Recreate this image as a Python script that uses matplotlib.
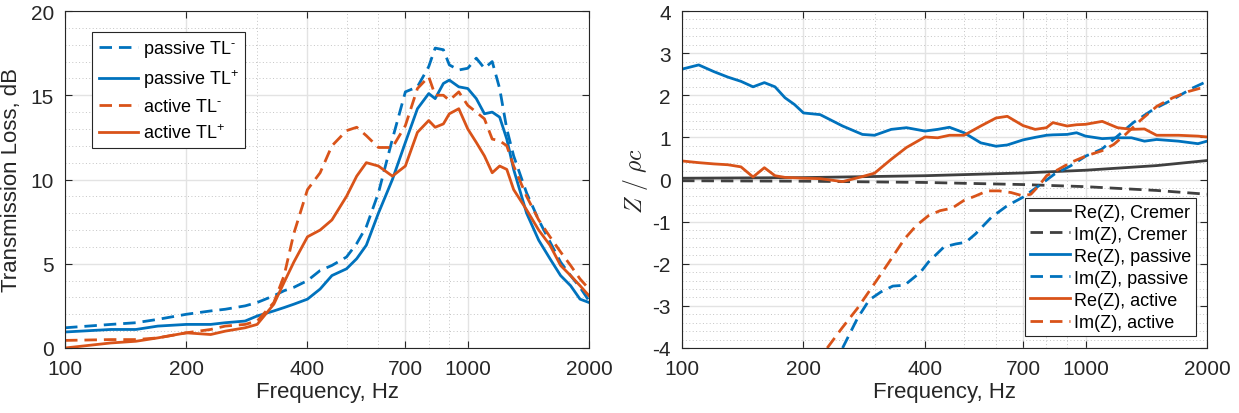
"""Transmission loss (left) and normalised impedance (right) vs frequency."""
import matplotlib

matplotlib.use("Agg")
import matplotlib.pyplot as plt
from matplotlib.ticker import FixedLocator, LogLocator, MultipleLocator, NullFormatter, FixedFormatter

BLUE = "#0072BD"
ORANGE = "#D95319"
GREY = "#404040"
TXT = "#262626"

# ---- left panel: transmission loss, dB ----
f_tl = [100, 130, 150, 170, 200, 230, 250, 280, 300, 330, 350, 370, 400, 430, 460, 500,
        530, 560, 600, 650, 700, 750, 800, 830, 870, 900, 950, 1000, 1050, 1100, 1150,
        1200, 1250, 1300, 1400, 1500, 1600, 1700, 1800, 1900, 2000]
tl_passive_minus = [1.2, 1.4, 1.5, 1.7, 2.0, 2.2, 2.3, 2.5, 2.7, 3.1, 3.4, 3.6, 4.0, 4.6, 4.9, 5.4,
                    6.2, 7.2, 9.2, 12.4, 15.2, 15.5, 16.7, 17.8, 17.7, 16.8, 16.5, 16.6, 17.2, 16.6, 17.0,
                    15.4, 13.0, 11.4, 9.2, 7.6, 6.3, 5.1, 4.3, 3.6, 2.8]
tl_passive_plus = [0.95, 1.1, 1.1, 1.3, 1.4, 1.4, 1.5, 1.6, 1.9, 2.2, 2.4, 2.6, 2.9, 3.5, 4.3, 4.7,
                   5.3, 6.1, 8.0, 10.0, 12.2, 14.2, 15.1, 14.8, 15.7, 15.9, 15.5, 15.4, 14.8, 13.9, 14.0,
                   13.7, 12.4, 10.6, 8.0, 6.4, 5.3, 4.3, 3.7, 2.9, 2.7]
tl_active_minus = [0.45, 0.5, 0.5, 0.6, 0.9, 1.1, 1.3, 1.4, 1.6, 2.7, 4.3, 6.8, 9.4, 10.4, 12.0, 12.9,
                   13.1, 12.6, 11.9, 11.9, 13.2, 15.4, 16.1, 15.0, 15.0, 14.7, 15.2, 14.4, 14.0, 13.6, 12.4,
                   12.3, 12.0, 10.8, 9.0, 7.6, 6.6, 5.7, 4.9, 4.1, 3.5]
tl_active_plus = [0.0, 0.3, 0.4, 0.6, 0.9, 0.8, 1.0, 1.2, 1.4, 2.6, 3.9, 5.1, 6.6, 7.0, 7.6, 9.0,
                  10.2, 11.0, 10.8, 10.2, 10.8, 12.8, 13.5, 13.1, 13.3, 13.9, 14.2, 13.0, 12.2, 11.4, 10.4,
                  10.8, 10.6, 9.4, 8.2, 7.0, 6.1, 4.9, 4.3, 3.7, 3.1]

# ---- right panel: Z / rho c ----
f_cremer = [100, 200, 400, 700, 1000, 1500, 2000]
re_cremer = [0.03, 0.045, 0.09, 0.155, 0.22, 0.33, 0.45]
im_cremer = [-0.03, -0.04, -0.07, -0.12, -0.17, -0.26, -0.35]

f_re = [100, 110, 120, 130, 140, 150, 160, 170, 180, 190, 200, 220, 250, 280, 300, 330, 360,
        400, 430, 460, 500, 550, 600, 640, 700, 750, 800, 830, 900, 950, 1000, 1100, 1200,
        1300, 1400, 1500, 1700, 1900, 2000]
re_passive = [2.62, 2.72, 2.56, 2.43, 2.33, 2.2, 2.3, 2.2, 1.94, 1.78, 1.58, 1.54, 1.27, 1.07, 1.05,
              1.19, 1.23, 1.15, 1.19, 1.24, 1.11, 0.87, 0.79, 0.82, 0.94, 1.0, 1.05, 1.06, 1.07, 1.11,
              1.03, 0.97, 0.99, 0.99, 0.91, 0.95, 0.91, 0.85, 0.91]
re_active = [0.44, 0.4, 0.37, 0.35, 0.3, 0.06, 0.28, 0.09, 0.05, 0.04, 0.03, 0.02, -0.05, 0.07, 0.15,
             0.48, 0.76, 1.01, 0.99, 1.05, 1.05, 1.27, 1.46, 1.5, 1.28, 1.19, 1.23, 1.35, 1.27, 1.3,
             1.31, 1.38, 1.23, 1.19, 1.2, 1.05, 1.05, 1.03, 1.01]

f_im_passive = [250, 272, 291, 311, 333, 356, 390, 408, 446, 477, 505, 534, 584, 640, 700, 766,
                838, 917, 1003, 1097, 1200, 1313, 1470, 1645, 1841, 2000]
im_passive = [-4.0, -3.3, -2.86, -2.67, -2.53, -2.51, -2.2, -1.96, -1.6, -1.53, -1.49, -1.29, -0.9,
              -0.62, -0.42, -0.15, 0.13, 0.32, 0.56, 0.72, 1.03, 1.35, 1.66, 1.9, 2.17, 2.33]
f_im_active = [229, 249, 272, 298, 326, 356, 381, 408, 436, 467, 499, 534, 571, 611, 654, 700,
               732, 766, 801, 857, 917, 1003, 1097, 1174, 1256, 1374, 1503, 1645, 1800, 2000]
im_active = [-4.0, -3.53, -3.06, -2.51, -1.96, -1.41, -1.09, -0.86, -0.74, -0.68, -0.5, -0.39, -0.27,
             -0.27, -0.31, -0.39, -0.35, -0.15, 0.09, 0.24, 0.4, 0.56, 0.68, 0.83, 1.07, 1.42, 1.74,
             1.94, 2.09, 2.21]

freq_ticks = [100, 200, 400, 700, 1000, 2000]

plt.rcParams["font.family"] = ["Liberation Sans", "DejaVu Sans"]
plt.rcParams["axes.unicode_minus"] = False
plt.rcParams["mathtext.fontset"] = "custom"
plt.rcParams["mathtext.rm"] = "Liberation Sans"
plt.rcParams["mathtext.it"] = "Liberation Sans:italic"
DASH = (0, (4.5, 2.5))
LW = 2.0


def style_axes(ax, ymin, ymax, ymajor, yminor):
    ax.set_xscale("log")
    ax.set_xlim(100, 2000)
    ax.set_ylim(ymin, ymax)
    ax.xaxis.set_major_locator(FixedLocator(freq_ticks))
    ax.xaxis.set_major_formatter(FixedFormatter([str(t) for t in freq_ticks]))
    ax.xaxis.set_minor_locator(LogLocator(base=10, subs=range(1, 10)))
    ax.xaxis.set_minor_formatter(NullFormatter())
    ax.yaxis.set_major_locator(MultipleLocator(ymajor))
    ax.yaxis.set_minor_locator(MultipleLocator(yminor))
    ax.grid(True, which="major", color="#e3e3e3", lw=1.0)
    ax.grid(True, which="minor", color="#c4c4c4", lw=0.7, ls=(0, (1, 2.5)))
    ax.set_axisbelow(True)
    ax.tick_params(which="both", direction="in", top=True, right=True, colors=TXT,
                   labelsize=15, labelcolor=TXT)
    ax.tick_params(which="major", length=5, width=0.8, pad=8)
    ax.tick_params(which="minor", length=0)
    for s in ax.spines.values():
        s.set_color(TXT)
        s.set_linewidth(0.8)
    ax.set_xlabel("Frequency, Hz", fontsize=16, color=TXT, labelpad=2)


fig = plt.figure(figsize=(12.39, 4.14), dpi=100)
ax1 = fig.add_axes([65 / 1239, 65 / 414, 524 / 1239, 337 / 414])
ax2 = fig.add_axes([682 / 1239, 65 / 414, 525 / 1239, 337 / 414])

ax1.plot(f_tl, tl_passive_minus, color=BLUE, lw=LW, ls=DASH, label="passive TL$^{\\text{-}}$")
ax1.plot(f_tl, tl_passive_plus, color=BLUE, lw=LW, label="passive TL$^{+}$")
ax1.plot(f_tl, tl_active_minus, color=ORANGE, lw=LW, ls=DASH, label="active TL$^{\\text{-}}$")
ax1.plot(f_tl, tl_active_plus, color=ORANGE, lw=LW, label="active TL$^{+}$")
style_axes(ax1, 0, 20, 5, 1)
ax1.set_ylabel("Transmission Loss, dB", fontsize=16, color=TXT, labelpad=6)
leg1 = ax1.legend(loc="upper left", bbox_to_anchor=(0.035, 0.965), fontsize=13, handlelength=2.2,
                  handletextpad=0.25, labelspacing=0.45, borderpad=0.35, fancybox=False,
                  framealpha=1, edgecolor=TXT)
leg1.get_frame().set_linewidth(0.8)

ax2.plot(f_cremer, re_cremer, color=GREY, lw=LW, label="Re(Z), Cremer")
ax2.plot(f_cremer, im_cremer, color=GREY, lw=LW, ls=DASH, label="Im(Z), Cremer")
ax2.plot(f_re, re_passive, color=BLUE, lw=LW, label="Re(Z), passive")
ax2.plot(f_im_passive, im_passive, color=BLUE, lw=LW, ls=DASH, label="Im(Z), passive")
ax2.plot(f_re, re_active, color=ORANGE, lw=LW, label="Re(Z), active")
ax2.plot(f_im_active, im_active, color=ORANGE, lw=LW, ls=DASH, label="Im(Z), active")
style_axes(ax2, -4, 4, 1, 0.2)
ax2.set_ylabel("$Z\\ /\\ \\rho c$", fontsize=17, color=TXT, labelpad=2, math_fontfamily="cm")
leg2 = ax2.legend(loc="lower right", bbox_to_anchor=(0.997, 0.008), fontsize=13, handlelength=2.2,
                  handletextpad=0.2, labelspacing=0.28, borderpad=0.3, fancybox=False,
                  framealpha=1, edgecolor=TXT)
leg2.get_frame().set_linewidth(0.8)

fig.savefig("out.png", dpi=100)
